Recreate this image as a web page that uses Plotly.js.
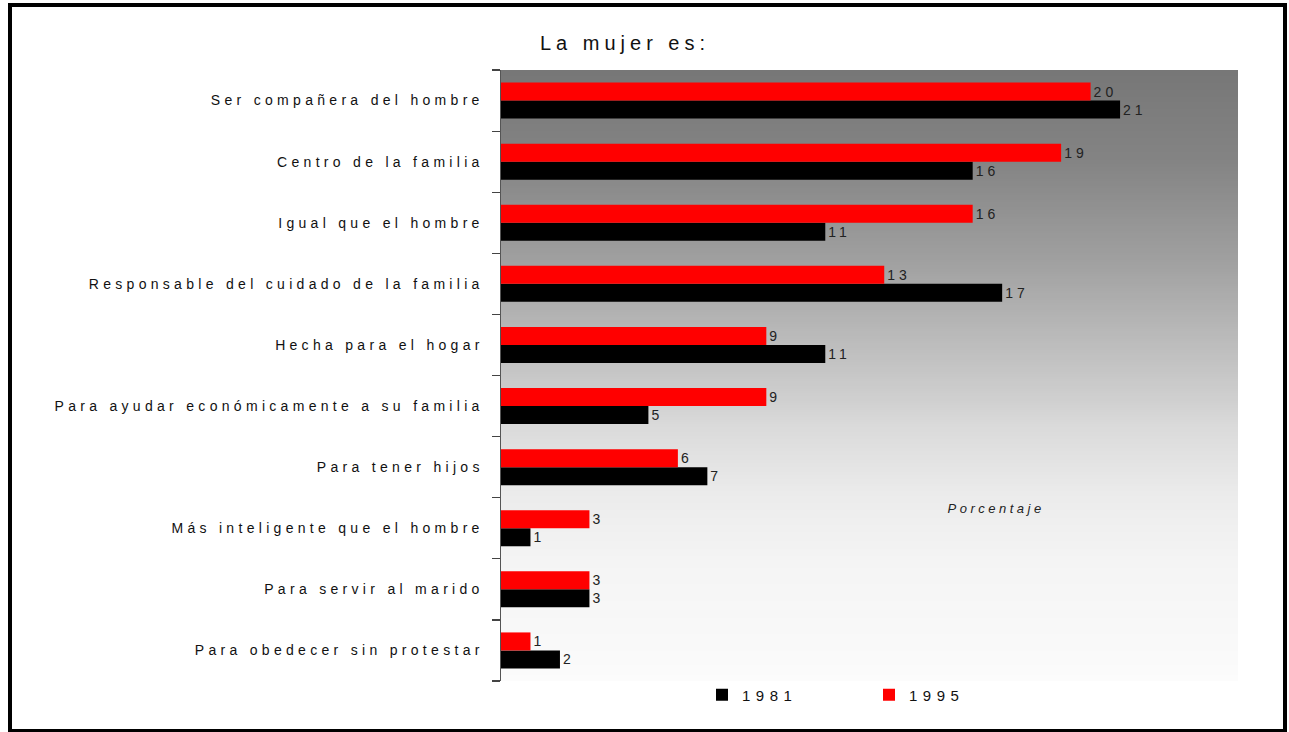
<!DOCTYPE html>
<html>
<head>
<meta charset="utf-8">
<script src="https://cdn.plot.ly/plotly-3.0.1.min.js"></script>
<style>
  html, body { margin: 0; padding: 0; background: #fff; }
  #chart { width: 1289px; height: 732px; }
  #chart .ytick text { letter-spacing: 4.3px; }
  #chart .gtitle { letter-spacing: 5px; }
  text.bartext { letter-spacing: 4px; }
  #chart .legendtext { letter-spacing: 5.5px; }
  #chart .annotation-text { letter-spacing: 3.5px; }
</style>
</head>
<body>
<div id="chart"></div>
<script>
// ---- data ----
const categories = [
  "Ser compañera del hombre",
  "Centro de la familia",
  "Igual que el hombre",
  "Responsable del cuidado de la familia",
  "Hecha para el hogar",
  "Para ayudar económicamente a su familia",
  "Para tener hijos",
  "Más inteligente que el hombre",
  "Para servir al marido",
  "Para obedecer sin protestar"
];
const values1981 = [21, 16, 11, 17, 11, 5, 7, 1, 3, 2];
const values1995 = [20, 19, 16, 13, 9, 9, 6, 3, 3, 1];
const seriesNames = ["1981", "1995"];
const titleText = "La mujer es:";
const axisLabel = "Porcentaje";

// ---- layout geometry ----
const W = 1289, H = 732;
const M = { l: 501, r: 51, t: 70, b: 51 };
const PW = W - M.l - M.r, PH = H - M.t - M.b;
const px2x = p => (p - M.l) / PW;
const px2y = p => (H - M.b - p) / PH;

// ---- vertical gradient background generated in page ----
function gradientURL() {
  const n = 256;
  const c = document.createElement('canvas');
  c.width = 4; c.height = n;
  const ctx = c.getContext('2d');
  const img = ctx.createImageData(4, n);
  const stops = [[0, 119], [0.147, 132], [0.31, 160], [0.376, 174], [0.474, 194], [0.54, 208],
                 [0.58, 218], [0.62, 224], [0.692, 235], [0.736, 239], [0.802, 244], [0.965, 250], [1.0, 252]];
  function f(t) {
    if (t <= stops[0][0]) return stops[0][1];
    for (let k = 1; k < stops.length; k++) {
      if (t <= stops[k][0]) {
        const a = stops[k - 1], b = stops[k];
        return a[1] + (b[1] - a[1]) * (t - a[0]) / (b[0] - a[0]);
      }
    }
    return stops[stops.length - 1][1];
  }
  for (let j = 0; j < n; j++) {
    const v = Math.round(f(j / (n - 1)));
    for (let i = 0; i < 4; i++) {
      const o = (j * 4 + i) * 4;
      img.data[o] = v; img.data[o + 1] = v; img.data[o + 2] = v; img.data[o + 3] = 255;
    }
  }
  ctx.putImageData(img, 0, 0);
  return c.toDataURL('image/png');
}

const FONT = "Liberation Sans, Arial, sans-serif";
const yOrder = categories.slice().reverse();

const traces = [
  {
    type: 'bar', orientation: 'h', name: seriesNames[0],
    y: categories, x: values1981,
    marker: { color: '#000000', line: { width: 0 } },
    text: values1981.map(String), textposition: 'outside',
    textfont: { family: FONT, size: 14, color: '#222' },
    constraintext: 'none', cliponaxis: false, hoverinfo: 'x+y'
  },
  {
    type: 'bar', orientation: 'h', name: seriesNames[1],
    y: categories, x: values1995,
    marker: { color: '#ff0000', line: { width: 0 } },
    text: values1995.map(String), textposition: 'outside',
    textfont: { family: FONT, size: 14, color: '#222' },
    constraintext: 'none', cliponaxis: false, hoverinfo: 'x+y'
  }
];

const layout = {
  width: W, height: H,
  margin: M,
  paper_bgcolor: '#ffffff',
  plot_bgcolor: 'rgba(0,0,0,0)',
  font: { family: FONT, size: 14, color: '#111' },
  barmode: 'group', bargap: 0.41, bargroupgap: 0,
  showlegend: true,
  title: {
    text: titleText,
    font: { family: FONT, size: 20, color: '#111' },
    xref: 'container', yref: 'container',
    x: 540 / W, xanchor: 'left',
    y: 1 - 43 / H, yanchor: 'middle'
  },
  xaxis: {
    range: [0, 25], showgrid: false, zeroline: false,
    showline: false, showticklabels: false, ticks: '', fixedrange: true
  },
  yaxis: {
    type: 'category', categoryorder: 'array', categoryarray: yOrder,
    showgrid: false, zeroline: false,
    showline: true, linecolor: '#555', linewidth: 1.5,
    ticks: 'outside', tickson: 'boundaries', ticklen: 8, tickwidth: 1.2, tickcolor: '#444',
    ticklabelstandoff: 13,
    tickfont: { family: FONT, size: 14, color: '#111' },
    automargin: false, fixedrange: true
  },
  legend: {
    orientation: 'h',
    x: px2x(702), xanchor: 'left',
    y: px2y(695), yanchor: 'middle',
    font: { family: FONT, size: 15, color: '#111' },
    entrywidth: 122, entrywidthmode: 'pixels',
    bgcolor: 'rgba(0,0,0,0)'
  },
  annotations: [{
    text: axisLabel, showarrow: false,
    xref: 'paper', yref: 'paper',
    x: px2x(996), y: px2y(508), xanchor: 'center', yanchor: 'middle',
    font: { family: FONT, size: 13, color: '#222', style: 'italic' }
  }],
  images: [{
    source: gradientURL(),
    xref: 'paper', yref: 'paper', x: 0, y: 1, sizex: 1, sizey: 1,
    xanchor: 'left', yanchor: 'top', sizing: 'stretch', layer: 'below'
  }],
  shapes: [{
    type: 'rect', xref: 'paper', yref: 'paper',
    x0: px2x(10), x1: px2x(1285), y0: px2y(731), y1: px2y(5),
    line: { color: '#000', width: 4 }, fillcolor: 'rgba(0,0,0,0)'
  }]
};

Plotly.newPlot('chart', traces, layout, { displayModeBar: false, staticPlot: true });
</script>
</body>
</html>
